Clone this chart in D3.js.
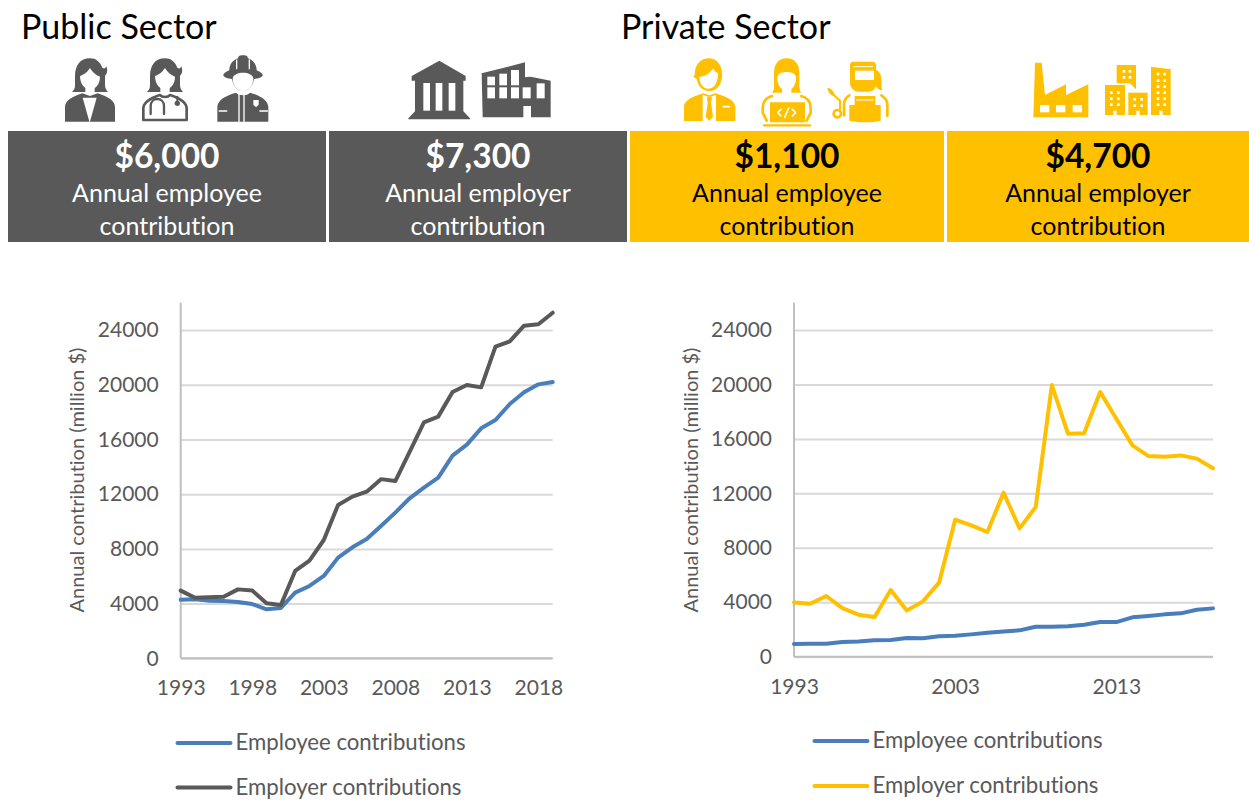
<!DOCTYPE html>
<html>
<head>
<meta charset="utf-8">
<script src="https://d3js.org/d3.v7.min.js"></script>
<style>
  html, body { margin: 0; padding: 0; background: #fff; }
  svg { display: block; }
  text { font-family: Lato, "Open Sans", sans-serif; font-variant-ligatures: none; }
</style>
</head>
<body>
<script>
// chart data
var years = [1993,1994,1995,1996,1997,1998,1999,2000,2001,2002,2003,2004,2005,2006,2007,2008,2009,2010,2011,2012,2013,2014,2015,2016,2017,2018,2019];
var publicEmployee = [4290,4310,4215,4190,4120,3970,3580,3680,4800,5290,6020,7360,8115,8725,9675,10650,11700,12480,13210,14820,15620,16815,17425,18595,19450,20030,20200];
var publicEmployer = [4950,4430,4460,4500,5040,4950,4020,3900,6385,7140,8650,11210,11820,12180,13100,12960,15100,17250,17670,19470,19980,19810,22790,23170,24320,24420,25270];
var privateEmployee = [930,955,955,1080,1125,1200,1225,1370,1350,1495,1540,1640,1760,1860,1935,2205,2205,2230,2350,2550,2545,2890,2990,3110,3185,3450,3550];
var privateEmployer = [3990,3890,4460,3575,3085,2915,4900,3400,4065,5440,10065,9650,9160,12050,9430,11000,19960,16380,16410,19445,17485,15525,14740,14690,14790,14550,13840];
var yTicks = [0,4000,8000,12000,16000,20000,24000];
var publicYearTicks = [1993,1998,2003,2008,2013,2018];
var privateYearTicks = [1993,2003,2013];
var legendLabels = ["Employee contributions","Employer contributions"];
var sectorTitles = ["Public Sector","Private Sector"];
var boxAmounts = ["$6,000","$7,300","$1,100","$4,700"];
var boxLabels = ["Annual employee","Annual employer","Annual employee","Annual employer"];

var GREY = "#595959", YELLOW = "#FFC000", BLUE = "#4A7EBB";

var svg = d3.select("body").append("svg")
    .attr("width", 1249)
    .attr("height", 800);

// sector titles
svg.append("text").attr("x", 21).attr("y", 39).style("font-size", "34px").attr("fill", "#000").text(sectorTitles[0]);
svg.append("text").attr("x", 621).attr("y", 39).style("font-size", "34px").attr("fill", "#000").text(sectorTitles[1]);

// the four figure boxes
var boxes = [
  {x0: 8, x1: 326, fill: GREY, ink: "#fff"},
  {x0: 329, x1: 627, fill: GREY, ink: "#fff"},
  {x0: 630, x1: 944, fill: YELLOW, ink: "#000"},
  {x0: 947, x1: 1249, fill: YELLOW, ink: "#000"}
];
boxes.forEach(function(b, i) {
  var cx = (b.x0 + b.x1) / 2;
  svg.append("rect").attr("x", b.x0).attr("y", 131).attr("width", b.x1 - b.x0).attr("height", 111).attr("fill", b.fill);
  svg.append("text").attr("x", cx).attr("y", 168).attr("text-anchor", "middle")
      .style("font-size", "33.5px").style("font-weight", "700").attr("fill", b.ink).text(boxAmounts[i]);
  svg.append("text").attr("x", cx).attr("y", 202).attr("text-anchor", "middle")
      .style("font-size", "25px").attr("fill", b.ink).text(boxLabels[i]);
  svg.append("text").attr("x", cx).attr("y", 235).attr("text-anchor", "middle")
      .style("font-size", "25px").attr("fill", b.ink).text("contribution");
});

// line charts
function drawPanel(p) {
  var x = d3.scalePoint().domain(years).range([p.left, p.right]);
  var y = d3.scaleLinear().domain([0, 26000]).range([p.bottom, p.top]);
  var g = svg.append("g");

  // gridlines and value labels
  var yAxis = g.append("g")
      .attr("transform", "translate(" + p.left + ",0)")
      .call(d3.axisLeft(y).tickValues(yTicks).tickSize(-(p.right - p.left)).tickPadding(p.labelPad).tickFormat(d3.format("d")));
  yAxis.select(".domain").remove();
  yAxis.selectAll("line").attr("stroke", "#D9D9D9").attr("stroke-width", 2);
  yAxis.selectAll("text").attr("fill", GREY).style("font-size", "21px").style("font-family", "Lato");

  // year axis
  var xAxis = g.append("g")
      .attr("transform", "translate(0," + p.bottom + ")")
      .call(d3.axisBottom(x).tickValues(p.yearTicks).tickSize(0).tickPadding(22).tickFormat(d3.format("d")));
  xAxis.select(".domain").remove();
  xAxis.selectAll("text").attr("fill", GREY).style("font-size", "21px").style("font-family", "Lato");

  // vertical axis line
  g.append("line").attr("x1", p.left).attr("x2", p.left).attr("y1", p.top).attr("y2", p.bottom)
      .attr("stroke", "#BFBFBF").attr("stroke-width", 2);
  g.append("line").attr("x1", p.left).attr("x2", p.right).attr("y1", p.bottom).attr("y2", p.bottom)
      .attr("stroke", "#BFBFBF").attr("stroke-width", 2);

  g.append("text")
      .attr("transform", "translate(" + p.titleX + ",480) rotate(-90)")
      .attr("text-anchor", "middle")
      .attr("fill", GREY)
      .style("font-size", "20px")
      .text("Annual contribution (million $)");

  var line = d3.line()
      .x(function(d, i) { return x(years[i]); })
      .y(function(d) { return y(d); });

  p.series.forEach(function(s, i) {
    g.append("path")
        .attr("d", line(s.values))
        .attr("fill", "none")
        .attr("stroke", s.color)
        .attr("stroke-width", 4)
        .attr("stroke-linejoin", "round")
        .attr("stroke-linecap", "round");

    // legend
    g.append("line")
        .attr("x1", p.legendX).attr("x2", p.legendX + 53)
        .attr("y1", p.legendY[i]).attr("y2", p.legendY[i])
        .attr("stroke", s.color).attr("stroke-width", 4).attr("stroke-linecap", "round");
    g.append("text")
        .attr("x", p.legendX + 58).attr("y", p.legendY[i] + 7)
        .attr("fill", GREY).style("font-size", "22.2px")
        .text(legendLabels[i]);
  });
}

drawPanel({
  left: 180.7, right: 552.7, top: 302.7, bottom: 658.3, labelPad: 22, titleX: 84,
  yearTicks: publicYearTicks, legendX: 177.5, legendY: [743, 787.5],
  series: [{values: publicEmployee, color: BLUE}, {values: publicEmployer, color: GREY}]
});
drawPanel({
  left: 794, right: 1213, top: 302.8, bottom: 656.7, labelPad: 22, titleX: 698,
  yearTicks: privateYearTicks, legendX: 814.5, legendY: [741, 786],
  series: [{values: privateEmployee, color: BLUE}, {values: privateEmployer, color: YELLOW}]
});

// icons, drawn in 3x units and scaled down
function iconGroup(ox, oy) {
  return svg.append("g").attr("transform", "translate(" + ox + "," + oy + ") scale(" + (1 / 3) + ")");
}
function shape(g, d, fill) { g.append("path").attr("d", d).attr("fill", fill); }
function outline(g, d, color, w) {
  g.append("path").attr("d", d).attr("fill", "none").attr("stroke", color).attr("stroke-width", w)
      .attr("stroke-linecap", "round").attr("stroke-linejoin", "round");
}
function bust(g, cx, color) {
  // long hair with a white face and neck
  shape(g, "M" + cx + " 25c-30 0-45 22-45 52v30c0 8-4 14-9 19h108c-5-6-9-12-9-22v-27c8-6 8-18 4-28-3 8-8 7-12 4-7-18-20-28-37-28z", color);
  shape(g, "M" + (cx - 30) + " 78c6-2 20-8 30-24 6 12 18 22 30 26 0 24-14 38-30 38s-30-16-30-40z", "#fff");
  shape(g, "M" + (cx - 14) + " 112h28v20l-14 8-14-8z", "#fff");
}

// public sector people
var pub = iconGroup(40, 50);
bust(pub, 150, GREY);
shape(pub, "M75 215V172c0-22 24-32 52-42l23 8 23-8c28 10 52 20 52 42v43z", GREY);
shape(pub, "M128 143h42l-21 75z", "#fff");

bust(pub, 375, GREY);
outline(pub, "M310 210V175c0-20 26-32 50-40 6 8 24 8 30 0 24 8 50 20 50 40v35z", GREY, 8);
outline(pub, "M332 192v-24c0-28 40-28 40 0v24", GREY, 7);
outline(pub, "M412 140v18", GREY, 6);
pub.append("circle").attr("cx", 412).attr("cy", 160).attr("r", 8).attr("fill", GREY);

// firefighter
shape(pub, "M609 16c-12 0-13 2-15 9-16 6-26 18-26 36-8 4-18 8-18 15 0 6 14 10 26 11 4 22 16 36 33 36s29-14 33-36c12-1 26-5 26-11 0-7-10-11-18-15 0-18-10-30-26-36-2-7-3-9-15-9z", GREY);
outline(pub, "M590 30v26M628 30v26", "#fff", 4);
shape(pub, "M578 84c2-10 16-16 31-16s29 6 31 16c0 24-14 40-31 40s-31-16-31-40z", "#fff");
shape(pub, "M532 215V172c0-22 26-36 56-44 8 10 34 10 42 0 30 8 55 22 55 44v43z", GREY);
outline(pub, "M597 130v85M612 130v85", "#fff", 4);
outline(pub, "M538 183h22M660 183h22", "#fff", 5);
shape(pub, "M640 150h16v14l-8 8-8-8z", "#fff");

// public sector buildings
var pubB = iconGroup(400, 50);
shape(pubB, "M118 32L197 78V92H35V78ZM45 92H190V184L210 205V208H25V205L45 184Z", GREY);
[70, 107, 146].forEach(function(cx) { pubB.append("rect").attr("x", cx).attr("y", 99).attr("width", 20).attr("height", 83).attr("fill", "#fff"); });
shape(pubB, "M245 70L375 37V82L392 80L452 92V202H393V168H370V202H248Z", GREY);
[[262,80,23,26],[298,71,23,35],[333,60,24,46],[262,112,23,33],[298,112,23,33],[333,112,24,33],[368,112,24,33],[410,100,24,45]].forEach(function(w) {
  pubB.append("rect").attr("x", w[0]).attr("y", w[1]).attr("width", w[2]).attr("height", w[3]).attr("fill", "#fff");
});

// private sector people
var prv = iconGroup(670, 50);
shape(prv, "M118 25c-26 0-44 18-44 50l-4 6 10 6c4 22 18 36 38 36s34-16 38-40c4-30-12-58-38-58z", YELLOW);
shape(prv, "M88 80c18 0 32-10 42-26 2 8 8 14 14 16 0 26-10 46-28 46-16 0-28-14-28-36z", "#fff");
shape(prv, "M42 213V172c0-24 34-34 58-42l18 6 18-6c24 8 60 18 60 42v41z", YELLOW);
shape(prv, "M98 134l20 8 20-8v79H98z", "#fff");
shape(prv, "M110 142h16l-3 16 6 42-11 13-11-13 6-42z", YELLOW);
outline(prv, "M160 170h18", "#fff", 5);

// developer
shape(prv, "M350 25c-25 0-38 18-38 45v42c0 6-2 12-6 16h88c-4-4-6-10-6-16V70c0-27-13-45-38-45z", YELLOW);
shape(prv, "M322 84c0-12 12-18 28-18s28 6 28 18c0 22-12 38-28 38s-28-16-28-38z", "#fff");
shape(prv, "M336 114h28v16l-14 8-14-8z", "#fff");
outline(prv, "M306 138c-14 4-28 14-28 36v14l12 24M394 138c14 4 28 14 28 36v14l-12 24", YELLOW, 8);
shape(prv, "M300 157h105v60H300z", YELLOW);
outline(prv, "M282 226h138", YELLOW, 7);
outline(prv, "M333 178l-10 10 10 10M367 178l10 10-10 10M356 174l-12 28", "#fff", 5);

// welder
shape(prv, "M548 35h60c6 0 10 4 10 10v60c0 10-10 20-22 20h-30c-14 0-26-12-26-26V45c0-6 4-10 8-10z", YELLOW);
shape(prv, "M555 62h57v28h-57z", "#fff");
outline(prv, "M552 50h56", "#fff", 3);
shape(prv, "M614 58c16 6 22 18 20 40 0 10 2 18 2 24-10-2-18-10-22-20z", YELLOW);
outline(prv, "M538 136c-10 6-16 16-16 28v32M634 136c10 6 18 16 18 28v34", YELLOW, 8);
shape(prv, "M538 212V165h16v-27h62v27h16v47c-30 6-64 6-94 0z", YELLOW);
outline(prv, "M560 150h50", "#fff", 3);
prv.append("circle").attr("cx", 502).attr("cy", 191).attr("r", 11).attr("fill", "none").attr("stroke", YELLOW).attr("stroke-width", 8);
outline(prv, "M510 182v-30l-18-16", YELLOW, 6);
shape(prv, "M472 113c12 2 22 12 22 26-12-2-20-12-22-26z", YELLOW);

// private sector buildings
var prvB = iconGroup(1020, 50);
shape(prvB, "M45 38H65L75 135L138 103V135L205 103V202H40Z", YELLOW);
[60, 108, 158].forEach(function(wx) { prvB.append("rect").attr("x", wx).attr("y", 165).attr("width", 28).attr("height", 22).attr("fill", "#fff"); });

function tower(d, xs, ys, door) {
  shape(prvB, d, YELLOW);
  xs.forEach(function(wx) { ys.forEach(function(wy) {
    prvB.append("rect").attr("x", wx).attr("y", wy).attr("width", 8).attr("height", 8).attr("fill", "#fff");
  }); });
  prvB.append("rect").attr("x", door).attr("y", 182).attr("width", 10).attr("height", 14).attr("fill", "#fff");
}
shape(prvB, "M290 45H348V118L330 100H290Z", YELLOW);
[[308,60],[326,60],[308,78],[326,78]].forEach(function(w) { prvB.append("rect").attr("x", w[0]).attr("y", w[1]).attr("width", 8).attr("height", 8).attr("fill", "#fff"); });
tower("M255 105H315V195H255Z", [270, 291], [124, 142, 160], 280);
tower("M325 128H383V195H325Z", [340, 361], [144, 163], 349);
tower("M393 50L452 58V195H393Z", [410, 430], [68, 88, 106, 124, 142, 160], 418);
</script>
</body>
</html>
